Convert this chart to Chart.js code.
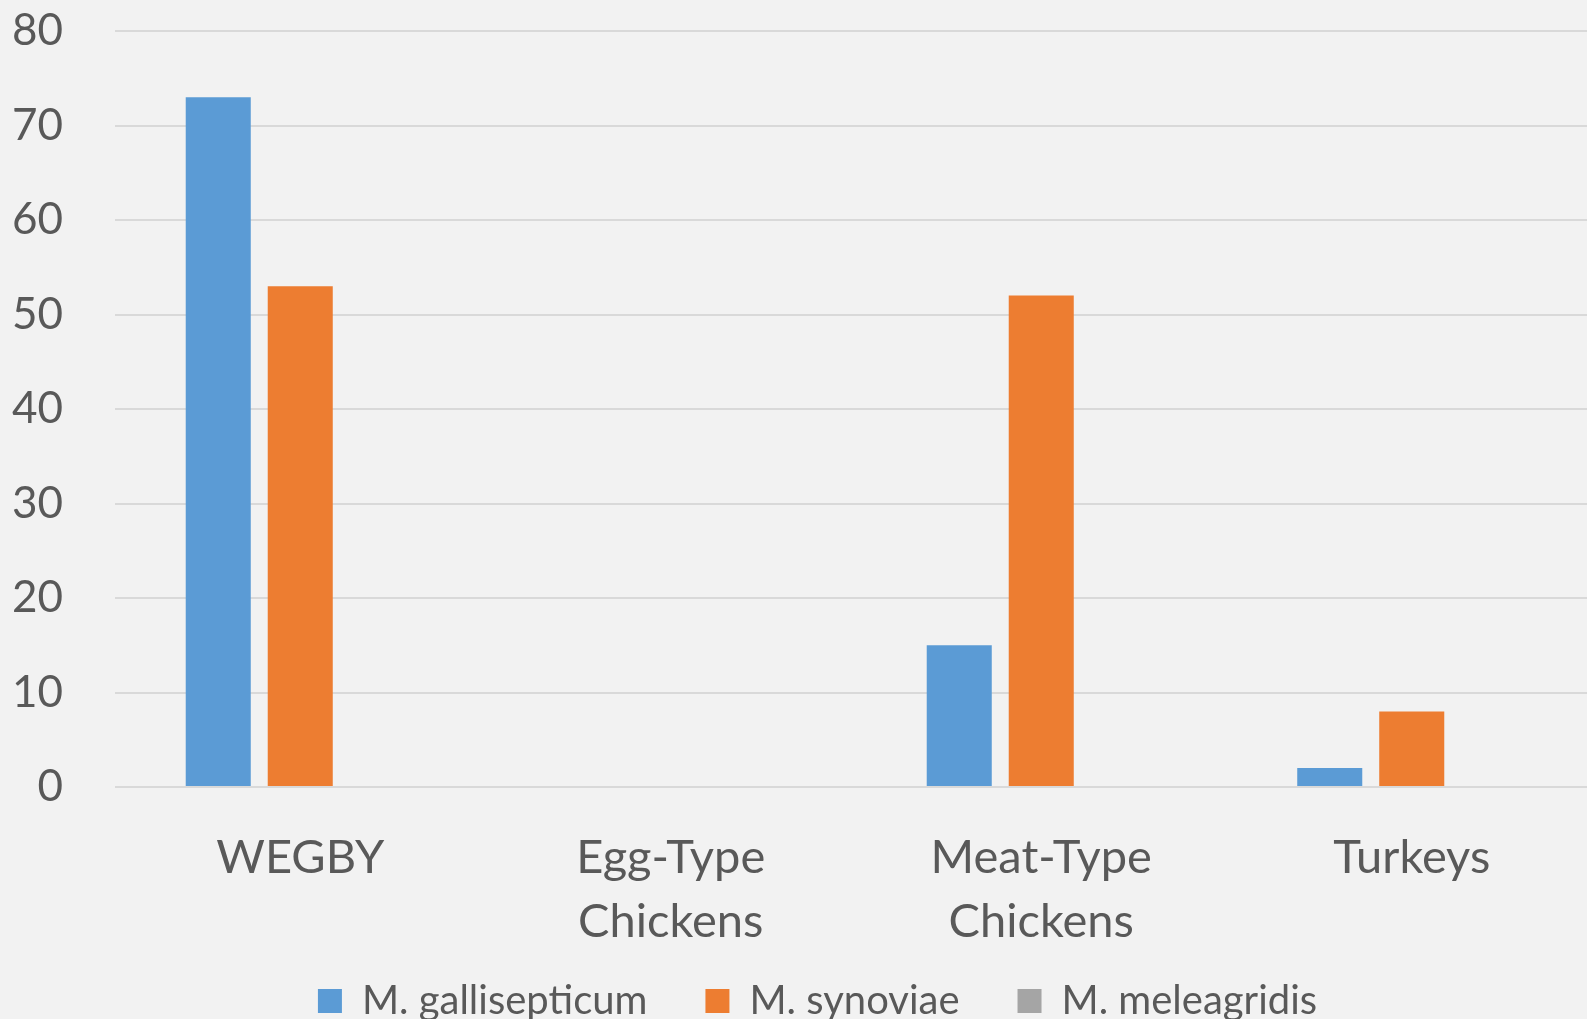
<!DOCTYPE html>
<html>
<head>
<meta charset="utf-8">
<script src="https://cdn.jsdelivr.net/npm/chart.js@4"></script>
<style>
    html, body { margin: 0; padding: 0; background: #f2f2f2; overflow: hidden; }
    canvas { display: block; }
</style>
</head>
<body>
<!-- canvas is a bit bigger than the window on purpose: the plot runs past the right edge and the legend is cut at the bottom, as in the original -->
<canvas id="mycoChart" width="1597" height="1060"></canvas>
<script>
const categories = ['WEGBY', ['Egg-Type', 'Chickens'], ['Meat-Type', 'Chickens'], 'Turkeys'];
const gallisepticum = [73, 0, 15, 2];
const synoviae = [53, 0, 52, 8];
const meleagridis = [0, 0, 0, 0];
const yMax = 80;
const yStep = 10;

const textColor = '#595959';
const gridColor = '#d9d9d9';

// shift the legend a little so it sits where the original had it
const legendNudge = {
    id: 'legendNudge',
    afterLayout: function(chart) {
        const lg = chart.legend;
        if (!lg) return;
        lg.left += 19; lg.right += 19;
        lg.top -= 29; lg.bottom -= 29;
    }
};

const ctx = document.getElementById('mycoChart').getContext('2d');
const mycoChart = new Chart(ctx, {
    type: 'bar',
    data: {
        labels: categories,
        datasets: [{
            label: 'M. gallisepticum',
            data: gallisepticum,
            backgroundColor: '#5b9bd5'
        }, {
            label: 'M. synoviae',
            data: synoviae,
            backgroundColor: '#ed7d31'
        }, {
            label: 'M. meleagridis',
            data: meleagridis,
            backgroundColor: '#a5a5a5'
        }]
    },
    options: {
        responsive: false,
        animation: false,
        categoryPercentage: 0.664,
        barPercentage: 0.793,
        layout: {
            padding: { left: 0, right: 0, top: 31, bottom: 0 }
        },
        plugins: {
            tooltip: { enabled: false },
            legend: {
                display: true,
                position: 'bottom',
                labels: {
                    color: textColor,
                    font: { family: 'Lato', size: 40 },
                    boxWidth: 24,
                    boxHeight: 24,
                    padding: 58
                }
            }
        },
        scales: {
            x: {
                grid: { display: false },
                border: { display: false },
                ticks: {
                    color: textColor,
                    font: { family: 'Lato', size: 47, lineHeight: 1.38 },
                    padding: 30,
                    maxRotation: 0
                },
                afterFit: function(scale) { scale.height = 165; }
            },
            y: {
                min: 0,
                max: yMax,
                grid: { color: gridColor, lineWidth: 2, drawTicks: false },
                border: { display: false },
                ticks: {
                    stepSize: yStep,
                    color: textColor,
                    font: { family: 'Lato', size: 44 },
                    padding: 52
                },
                afterFit: function(scale) {
                    scale.width = 115;
                    scale.paddingTop = 0;
                    scale.paddingBottom = 0;
                }
            }
        }
    },
    plugins: [legendNudge]
});
</script>
</body>
</html>
